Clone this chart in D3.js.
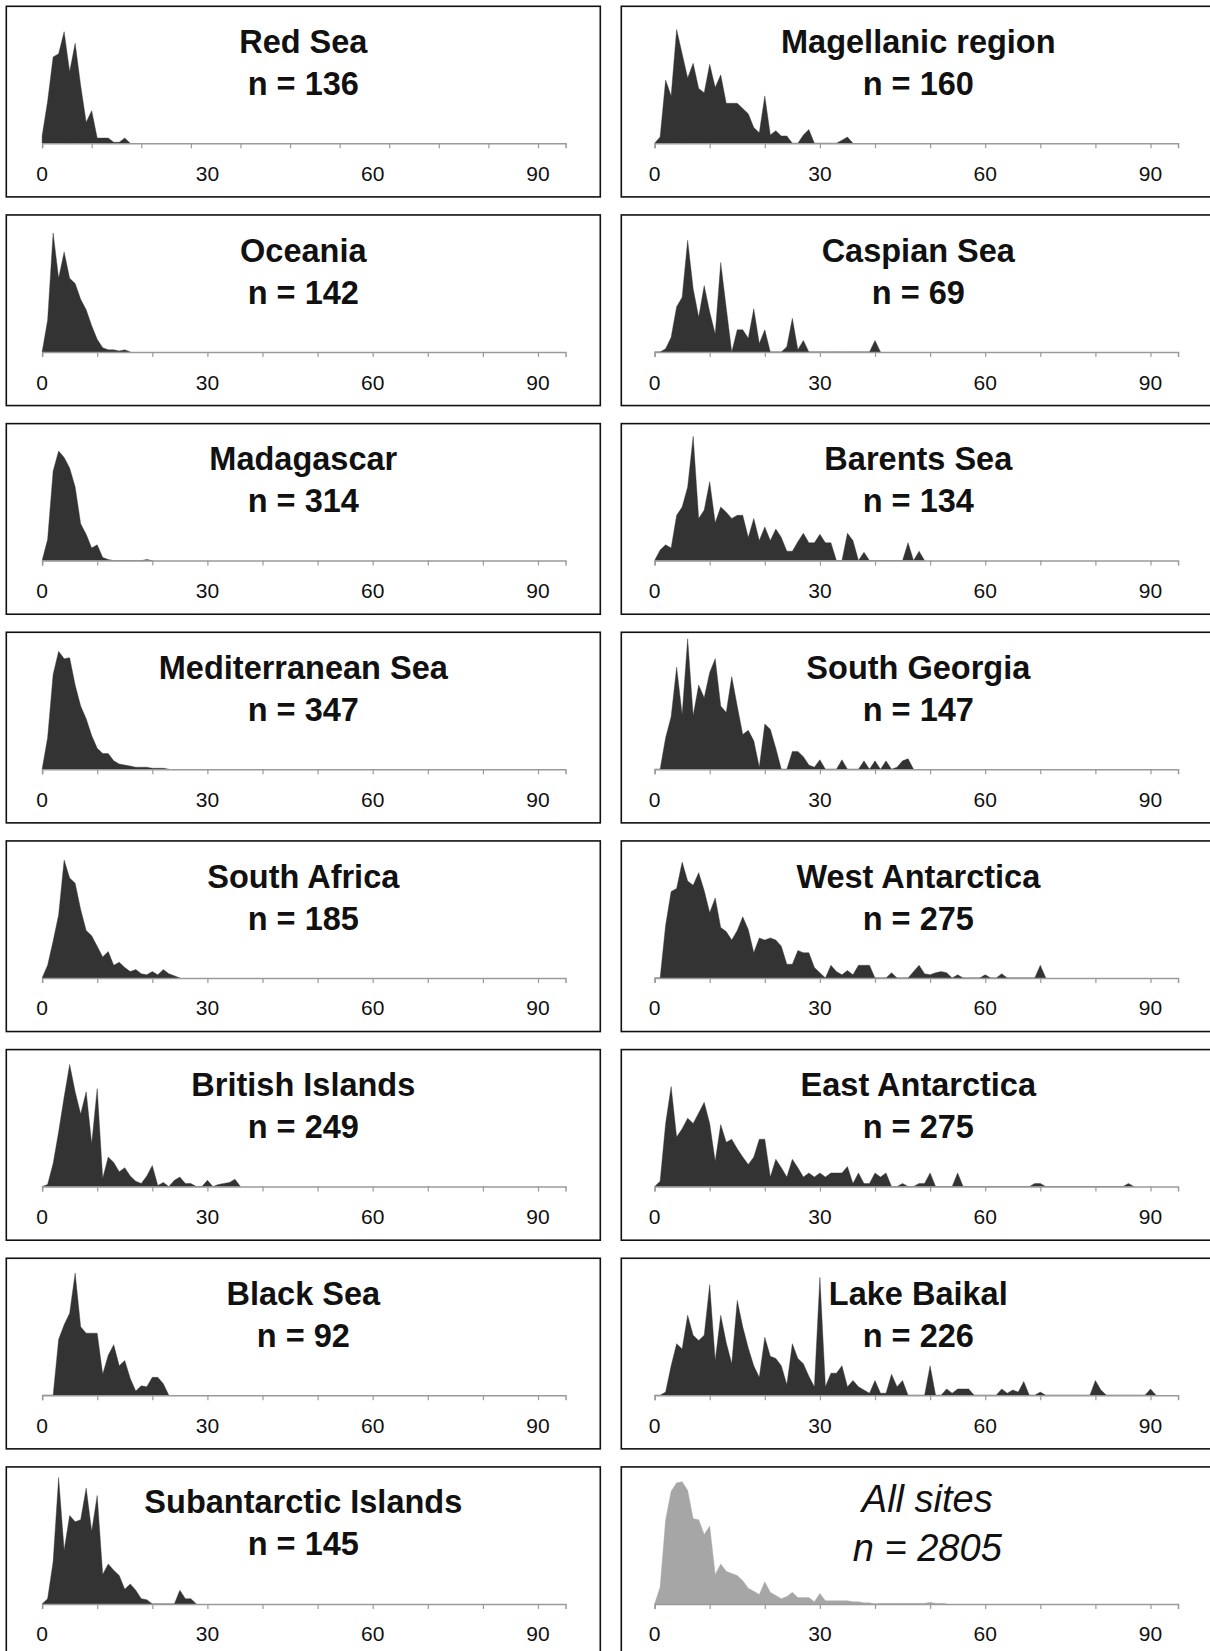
<!DOCTYPE html>
<html><head><meta charset="utf-8">
<script src="https://cdn.jsdelivr.net/npm/d3@7"></script>
<style>html,body{margin:0;padding:0;background:#fff;}svg{display:block;}</style>
</head><body>
<svg id="chart" width="1210" height="1651"></svg>
<script>
// ---- data (relative frequency per depth/size class) ----
const regions = ["Red Sea","Oceania","Madagascar","Mediterranean Sea","South Africa","British Islands","Black Sea","Subantarctic Islands",
                 "Magellanic region","Caspian Sea","Barents Sea","South Georgia","West Antarctica","East Antarctica","Lake Baikal","All sites"];
const nValues = [136,142,314,347,185,249,92,145,160,69,134,147,275,275,226,2805];
const tickLabels = [0,30,60,90];

const redSea = [7,40,82,85,106,68,95,55,20,31,5,5,5,1,1,5,0];
const oceania = [0,30,113,70,95,70,65,50,40,25,12,4,2,2,1,2,0];
const madagascar = [0,20,85,104,98,88,70,35,25,12,15,3,1,0,0,0,0,0,0,1,0];
const mediterranean = [0,30,90,112,105,106,80,60,48,32,20,15,15,8,5,4,3,2,2,2,1,1,1,0];
const southAfrica = [0,12,35,60,112,95,90,65,45,40,30,20,25,12,15,10,6,8,4,3,6,3,8,4,2,0];
const britishIslands = [0,2,22,52,85,116,90,69,90,41,93,8,28,23,14,18,10,5,3,10,20,1,4,0,6,9,3,3,0,0,6,0,2,3,4,7,0];
const blackSea = [0,0,0,53,67,78,116,65,59,59,59,20,38,48,28,33,16,4,9,8,17,17,11,0];
const subantarctic = [0,5,40,120,51,84,78,80,110,69,103,28,38,32,27,14,19,13,5,4,0,0,0,0,0,13,5,5,0];
const magellanic = [0,6,60,45,108,85,62,76,52,48,75,53,65,38,38,38,33,28,15,10,45,8,12,7,7,0,0,8,13,0,0,0,0,0,3,6,0];
const caspian = [0,0,3,14,43,52,106,60,33,63,38,17,85,42,0,21,21,13,41,8,21,0,0,0,5,32,2,11,0,0,0,0,0,0,0,0,0,0,0,0,11,0];
const barents = [0,10,15,12,43,51,70,118,40,48,75,36,51,46,40,43,43,22,40,19,32,19,30,22,9,9,18,26,17,17,25,17,17,0,0,26,19,0,8,0,0,0,0,0,0,0,17,0,9,0];
const southGeorgia = [0,0,30,50,97,52,124,51,80,68,92,105,60,54,88,60,33,37,27,2,43,38,20,0,0,17,17,12,4,2,9,0,0,0,9,0,0,0,8,0,8,0,8,0,2,8,10,0];
const westAntarctica = [0,0,50,82,85,110,92,88,100,83,62,76,48,44,36,45,58,46,24,38,36,38,36,30,13,13,26,24,24,10,5,0,12,6,3,7,3,12,12,12,0,0,0,5,0,0,0,6,12,4,3,5,6,5,0,3,0,0,0,0,3,0,0,4,0,0,0,0,0,0,12,0];
const eastAntarctica = [0,5,60,95,47,55,65,60,70,80,60,24,59,42,45,36,28,21,28,45,45,9,26,18,9,26,18,9,13,9,13,9,13,13,13,19,3,13,3,3,13,9,13,0,0,3,0,0,3,3,13,0,0,0,0,13,0,0,0,0,0,0,0,0,0,0,0,0,0,3,3,0,0,0,0,0,0,0,0,0,0,0,0,0,0,0,3,0];
const lakeBaikal = [0,0,3,28,49,44,76,57,52,57,105,33,76,50,30,90,65,45,28,17,55,37,35,28,10,49,35,30,18,8,112,8,21,21,28,8,14,8,5,2,14,2,2,20,8,14,0,0,0,0,28,0,0,6,2,6,6,6,0,0,0,0,0,6,2,5,3,13,0,0,3,0,0,0,0,0,0,0,0,0,14,5,0,0,0,0,0,0,0,0,6,0];
const allSites = [0,16,80,107,115,116,108,81,80,66,74,28,38,31,29,27,22,15,12,9,21,11,8,5,7,11,6,6,6,2,10,3,3,3,3,3,2,2,1,1,0,0.5,0.5,0.5,0.5,0.5,0.5,0.5,0.5,0.5,1.5,0.5,0.5,0];

const series = [redSea,oceania,madagascar,mediterranean,southAfrica,britishIslands,blackSea,subantarctic,
                magellanic,caspian,barents,southGeorgia,westAntarctica,eastAntarctica,lakeBaikal,allSites];
const tickSteps = [9,10,10,10,10,10,10,10,10,10,10,10,10,10,10,10];

// ---- layout ----
const svg = d3.select("#chart");
const colX = [6.3, 621.3];
const colAxisX0 = [35.8, 33.3];
const boxW = 594, boxH = 190.6;
const rowTop0 = 6.3, rowPitch = 208.66;
const pxPerUnit = 5.51, axisMax = 95;
const baseOff = 137;
const font = "'Liberation Sans', Arial, Helvetica, sans-serif";

const y = d3.scaleLinear().domain([0, 100]).range([0, 105.3]);

series.forEach((vals, k) => {
  const col = k < 8 ? 0 : 1;
  const row = k % 8;
  const bx = colX[col], by = rowTop0 + row * rowPitch;
  const g = svg.append("g").attr("transform", `translate(${bx},${by})`);
  const isAll = k === 15;

  g.append("rect").attr("x", 0).attr("y", 0).attr("width", boxW).attr("height", boxH)
    .attr("fill", "#fff").attr("stroke", "#111").attr("stroke-width", 1.6);

  const x0 = colAxisX0[col];
  const x = d3.scaleLinear().domain([0, axisMax]).range([x0, x0 + axisMax * pxPerUnit]);

  const area = d3.area()
    .x((d, i) => x(i))
    .y0(baseOff)
    .y1(d => baseOff - y(d));
  g.append("path").datum(vals).attr("d", area)
    .attr("fill", isAll ? "#a6a6a6" : "#333333")
    .attr("stroke", isAll ? "#a6a6a6" : "#333333").attr("stroke-width", 0.4);

  // axis
  const ax = d3.axisBottom(x).tickValues(d3.range(0, 91, tickSteps[k])).tickSize(5).tickFormat("");
  const axG = g.append("g").attr("transform", `translate(0,${baseOff})`).call(ax);
  axG.select(".domain").attr("stroke", "#9a9a9a").attr("stroke-width", 1.5);
  axG.selectAll(".tick line").attr("stroke", "#9a9a9a").attr("stroke-width", 1.2);

  g.selectAll("text.tl").data(tickLabels).enter().append("text")
    .attr("class", "tl")
    .attr("x", d => x(d)).attr("y", baseOff + 32)
    .attr("text-anchor", "middle").attr("dominant-baseline", "middle")
    .attr("font-family", font).attr("font-size", 21)
    .attr("fill", "#111").text(d => d);

  const cx = boxW / 2;
  if (isAll) {
    g.append("text").attr("x", cx + 9).attr("y", 35).attr("text-anchor", "middle").attr("dominant-baseline", "middle")
      .attr("font-family", font).attr("font-size", 38).attr("font-style", "italic")
      .attr("fill", "#111").text(regions[k]);
    g.append("text").attr("x", cx + 9).attr("y", 84).attr("text-anchor", "middle").attr("dominant-baseline", "middle")
      .attr("font-family", font).attr("font-size", 38).attr("font-style", "italic")
      .attr("fill", "#111").text("n = " + nValues[k]);
  } else {
    g.append("text").attr("x", cx).attr("y", 38).attr("text-anchor", "middle").attr("dominant-baseline", "middle")
      .attr("font-family", font).attr("font-size", 32.5).attr("font-weight", "bold")
      .attr("fill", "#111").text(regions[k]);
    g.append("text").attr("x", cx).attr("y", 80).attr("text-anchor", "middle").attr("dominant-baseline", "middle")
      .attr("font-family", font).attr("font-size", 32.5).attr("font-weight", "bold")
      .attr("fill", "#111").text("n = " + nValues[k]);
  }
});
</script>
</body></html>
